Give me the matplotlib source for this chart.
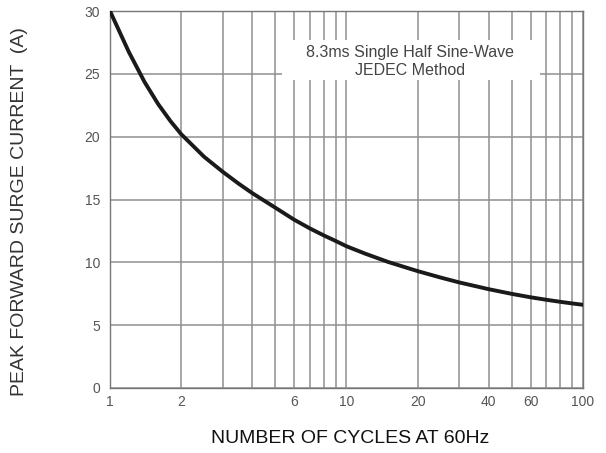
import matplotlib
matplotlib.use("Agg")
import matplotlib.pyplot as plt
from matplotlib.patches import Rectangle

cycles = [1, 1.2, 1.4, 1.6, 1.8, 2, 2.5, 3, 3.5, 4, 5, 6, 7, 8, 9, 10, 12, 15, 20, 25,
          30, 40, 50, 60, 70, 80, 90, 100]
current = [30, 26.76, 24.35, 22.58, 21.25, 20.2, 18.4, 17.2, 16.26, 15.5, 14.35, 13.4, 12.7,
           12.15, 11.7, 11.28, 10.69, 10.03, 9.3, 8.79, 8.4, 7.86, 7.49, 7.22, 7.02, 6.86,
           6.73, 6.62]
x_major = [1, 2, 6, 10, 20, 40, 60, 100]
x_major_labels = ["1", "2", "6", "10", "20", "40", "60", "100"]
x_minor = [3, 4, 5, 7, 8, 9, 30, 50, 70, 80, 90]
y_ticks = [0, 5, 10, 15, 20, 25, 30]

plt.rcParams['font.family'] = ['Liberation Sans', 'DejaVu Sans']

fig = plt.figure(figsize=(6.06, 4.53), dpi=100)
ax = fig.add_axes([0.1815, 0.1435, 0.7805, 0.8322])

ax.set_xscale('log')
ax.set_xlim(1, 100)
ax.set_ylim(0, 30)

ax.set_xticks(x_major)
ax.set_xticklabels(x_major_labels)
ax.set_xticks(x_minor, minor=True)
ax.set_xticklabels([], minor=True)
ax.set_yticks(y_ticks)

ax.tick_params(axis='both', which='both', length=0, labelsize=10, colors='#555555')
ax.tick_params(axis='y', pad=7)
ax.tick_params(axis='x', pad=5)

ax.grid(True, which='both', axis='x', color='#8f8f8f', lw=1.1)
ax.grid(True, which='major', axis='y', color='#8f8f8f', lw=1.1)
ax.set_axisbelow(True)

for s in ax.spines.values():
    s.set_color('#777777')
    s.set_linewidth(1.0)

ax.add_patch(Rectangle((0.364, 0.817), 0.545, 0.106, transform=ax.transAxes,
                       facecolor='white', edgecolor='none', zorder=1.5))
ax.text(0.634, 0.889, "8.3ms Single Half Sine-Wave", transform=ax.transAxes,
        ha='center', va='center', fontsize=11.5, color='#444444', zorder=3)
ax.text(0.634, 0.843, "JEDEC Method", transform=ax.transAxes,
        ha='center', va='center', fontsize=11.5, color='#444444', zorder=3)

ax.plot(cycles, current, color='#1a1a1a', lw=2.8, zorder=4, solid_capstyle='round')

fig.text(0.033, 0.532, "PEAK FORWARD SURGE CURRENT  (A)", rotation=90,
         ha='center', va='center', fontsize=14, color='#333333')
fig.text(0.578, 0.031, "NUMBER OF CYCLES AT 60Hz", ha='center', va='center',
         fontsize=14, color='#111111')

fig.savefig("out.png", dpi=100)
